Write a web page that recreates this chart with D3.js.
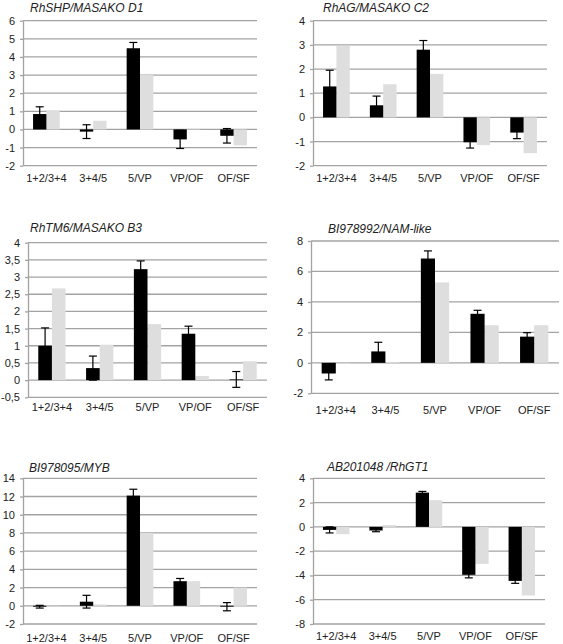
<!DOCTYPE html>
<html>
<head>
<meta charset="utf-8">
<script src="https://cdn.jsdelivr.net/npm/d3@7"></script>
<style>
  body { margin: 0; background: #fff; }
  svg { display: block; font-family: "Liberation Sans", Arial, sans-serif; }
</style>
</head>
<body>
<svg id="chart" width="563" height="644"></svg>
<script>
const categories = ["1+2/3+4", "3+4/5", "5/VP", "VP/OF", "OF/SF"];

const titles = ["RhSHP/MASAKO D1", "RhAG/MASAKO C2", "RhTM6/MASAKO B3", "BI978992/NAM-like", "BI978095/MYB", "AB201048 /RhGT1"];

const shpBlack = [0.85, -0.12, 4.48, -0.55, -0.35];
const shpErr   = [0.40, 0.38, 0.32, 0.50, 0.40];
const shpGrey  = [1.05, 0.48, 3.0, 0.03, -0.88];

const agBlack = [1.28, 0.5, 2.8, -1.03, -0.63];
const agErr   = [0.67, 0.38, 0.38, 0.24, 0.25];
const agGrey  = [2.95, 1.37, 1.8, -1.15, -1.48];

const tm6Black = [1.0, 0.35, 3.23, 1.35, 0.02];
const tm6Err   = [0.52, 0.35, 0.24, 0.22, 0.23];
const tm6Grey  = [2.67, 1.03, 1.63, 0.12, 0.55];

const namBlack = [-0.7, 0.75, 6.85, 3.22, 1.72];
const namErr   = [0.42, 0.6, 0.5, 0.23, 0.26];
const namGrey  = [-0.05, 0.05, 5.28, 2.47, 2.47];

const mybBlack = [-0.1, 0.45, 12.1, 2.7, -0.1];
const mybErr   = [0.15, 0.7, 0.7, 0.3, 0.45];
const mybGrey  = [-0.05, 0.15, 8.0, 2.7, 2.0];

const gt1Black = [-0.25, -0.3, 2.82, -3.95, -4.45];
const gt1Err   = [0.25, 0.1, 0.1, 0.25, 0.2];
const gt1Grey  = [-0.6, 0.15, 2.2, -3.05, -5.65];

const ticks1 = [-2, -1, 0, 1, 2, 3, 4, 5, 6];
const ticks2 = [-2, -1, 0, 1, 2, 3, 4];
const ticks3 = [-0.5, 0, 0.5, 1, 1.5, 2, 2.5, 3, 3.5, 4];
const ticks4 = [-2, 0, 2, 4, 6, 8];
const ticks5 = [-2, 0, 2, 4, 6, 8, 10, 12, 14];
const ticks6 = [-8, -6, -4, -2, 0, 2, 4];

// layout (positions/sizes)
const panels = [
  { title: titles[0], black: shpBlack, err: shpErr, grey: shpGrey, ticks: ticks1, x0: 23, x1: 257, yT: 20.7, yB: 165.7, tx: 30, ty: 12, ly: 182 },
  { title: titles[1], black: agBlack, err: agErr, grey: agGrey, ticks: ticks2, x0: 313, x1: 547, yT: 20.7, yB: 165.7, tx: 323, ty: 12, ly: 182 },
  { title: titles[2], black: tm6Black, err: tm6Err, grey: tm6Grey, ticks: ticks3, x0: 28, x1: 267, yT: 242.7, yB: 397.3, tx: 30, ty: 232, ly: 411, comma: true },
  { title: titles[3], black: namBlack, err: namErr, grey: namGrey, ticks: ticks4, x0: 311, x1: 559, yT: 241, yB: 393.3, tx: 328, ty: 233, ly: 414 },
  { title: titles[4], black: mybBlack, err: mybErr, grey: mybGrey, ticks: ticks5, x0: 23, x1: 257, yT: 478.3, yB: 624, tx: 29, ty: 472, ly: 641.5 },
  { title: titles[5], black: gt1Black, err: gt1Err, grey: gt1Grey, ticks: ticks6, x0: 313, x1: 545, yT: 478.3, yB: 624, tx: 327, ty: 471, ly: 640 }
];

const svg = d3.select("#chart");
const gridColor = "#a3a3a3";
const greyFill = "#dedede";

panels.forEach(p => {
  const g = svg.append("g");
  const y = d3.scaleLinear().domain(d3.extent(p.ticks)).range([p.yB, p.yT]);
  const x = d3.scaleBand().domain(categories).range([p.x0, p.x1]).paddingInner(0.43).paddingOuter(0.215);
  const xs = d3.scaleBand().domain(["black", "grey"]).range([0, x.bandwidth()]);

  // gridlines
  g.selectAll("line.grid").data(p.ticks).join("line")
    .attr("x1", p.x0).attr("x2", p.x1)
    .attr("y1", d => y(d)).attr("y2", d => y(d))
    .attr("stroke", gridColor).attr("stroke-width", 1.3);

  // axis
  const fmt = p.comma ? (d => String(d).replace(".", ",")) : (d => String(d));
  const ax = g.append("g").attr("transform", `translate(${p.x0},0)`)
    .call(d3.axisLeft(y).tickValues(p.ticks).tickFormat(fmt).tickSize(3).tickSizeOuter(0).tickPadding(5));
  ax.select(".domain").attr("stroke", gridColor).attr("stroke-width", 1.3);
  ax.selectAll(".tick line").attr("stroke", gridColor).attr("stroke-width", 1.3);
  ax.selectAll(".tick text").attr("fill", "#222").style("font-size", "11px")
    .style("font-family", "'Liberation Sans', Arial, sans-serif");

  const rows = categories.map((c, i) => ({ c, b: p.black[i], e: p.err[i], gr: p.grey[i] }));

  // grey bars
  g.selectAll("rect.grey").data(rows).join("rect")
    .attr("x", d => x(d.c) + xs("grey"))
    .attr("width", xs.bandwidth())
    .attr("y", d => Math.min(y(d.gr), y(0)))
    .attr("height", d => Math.abs(y(d.gr) - y(0)))
    .attr("fill", greyFill);

  // black bars
  g.selectAll("rect.black").data(rows).join("rect")
    .attr("x", d => x(d.c) + xs("black"))
    .attr("width", xs.bandwidth())
    .attr("y", d => Math.min(y(d.b), y(0)))
    .attr("height", d => Math.abs(y(d.b) - y(0)))
    .attr("fill", "#000");

  // error bars
  const cx = d => x(d.c) + xs("black") + xs.bandwidth() / 2;
  const eg = g.selectAll("g.err").data(rows).join("g");
  eg.append("line").attr("x1", cx).attr("x2", cx)
    .attr("y1", d => y(d.b - d.e)).attr("y2", d => y(d.b + d.e))
    .attr("stroke", "#000").attr("stroke-width", 1.2);
  eg.append("line").attr("x1", d => cx(d) - 4).attr("x2", d => cx(d) + 4)
    .attr("y1", d => y(d.b + d.e)).attr("y2", d => y(d.b + d.e))
    .attr("stroke", "#000").attr("stroke-width", 1.2);
  eg.append("line").attr("x1", d => cx(d) - 4).attr("x2", d => cx(d) + 4)
    .attr("y1", d => y(d.b - d.e)).attr("y2", d => y(d.b - d.e))
    .attr("stroke", "#000").attr("stroke-width", 1.2);

  // category labels
  g.selectAll("text.cat").data(categories).join("text")
    .attr("x", d => x(d) + x.bandwidth() / 2)
    .attr("y", p.ly)
    .attr("text-anchor", "middle")
    .attr("fill", "#222")
    .style("font-size", "11px")
    .text(d => d);

  // title
  g.append("text").attr("x", p.tx).attr("y", p.ty)
    .attr("fill", "#222")
    .style("font-size", "12px").style("font-style", "italic")
    .text(p.title);
});
</script>
</body>
</html>
